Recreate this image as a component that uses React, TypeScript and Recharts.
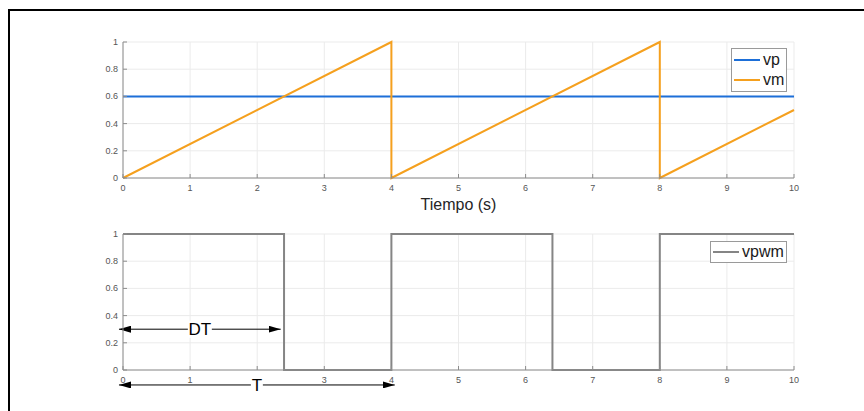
import { LineChart, Line, XAxis, YAxis, CartesianGrid, Legend, ReferenceLine, Label } from "recharts";

const xTicks = [0, 1, 2, 3, 4, 5, 6, 7, 8, 9, 10];
const yTicks = [0, 0.2, 0.4, 0.6, 0.8, 1];

const vpTime = [0, 10];
const vpValues = [0.6, 0.6];
const vmTime = [0, 4, 4, 8, 8, 10];
const vmValues = [0, 1, 0, 1, 0, 0.5];
const pwmTime = [0, 2.4, 4, 6.4, 8, 10];
const pwmValues = [1, 0, 1, 0, 1, 1];

const seriesOrder = ["vp", "vm", "vpwm"];

// arrow annotations (x from, x to, level)
const dtSpan = [-0.06, 2.35];
const dtLevel = 0.3;
const tSpan = [-0.06, 4.05];
const tLevel = -0.11;
// bottom tick label hidden under the "T" annotation
const pwmHiddenLabels = [2];

const toPoints = (xs: number[], ys: number[]) => xs.map((t, i) => ({ t, v: ys[i] }));

const AXIS = "#8c8c8c";
const LABEL = "#555555";
const GRID = "#ebebeb";
const FONT = "'Liberation Sans', Arial, sans-serif";

const BottomTick = (props: any) => {
  const { x, y, payload, hidden } = props;
  const showText = !(hidden || []).includes(payload.value);
  return (
    <g>
      <line x1={x} y1={y} x2={x} y2={y - 4} stroke={AXIS} />
      {showText && (
        <text x={x} y={y + 13} textAnchor="middle" fontSize={9} fill={LABEL} fontFamily={FONT}>
          {payload.value}
        </text>
      )}
    </g>
  );
};

const TopTick = (props: any) => {
  const { x, y } = props;
  return <line x1={x} y1={y} x2={x} y2={y + 4} stroke={AXIS} />;
};

const LeftTick = (props: any) => {
  const { x, y, payload } = props;
  return (
    <g>
      <line x1={x} y1={y} x2={x + 4} y2={y} stroke={AXIS} />
      <text x={x - 5} y={y + 3} textAnchor="end" fontSize={9} fill={LABEL} fontFamily={FONT}>
        {payload.value}
      </text>
    </g>
  );
};

const RightTick = (props: any) => {
  const { x, y } = props;
  return <line x1={x} y1={y} x2={x - 4} y2={y} stroke={AXIS} />;
};

const renderTitle = (props: any) => {
  const vb = props.viewBox;
  return (
    <text x={vb.x + vb.width / 2} y={vb.y + 31.5} textAnchor="middle" fontSize={16} fill="#262626" fontFamily={FONT}>
      Tiempo (s)
    </text>
  );
};

const makeLegend = (w: number, h: number) => (props: any) => {
  const items = [...(props.payload || [])].sort(
    (a: any, b: any) => seriesOrder.indexOf(a.value) - seriesOrder.indexOf(b.value)
  );
  return (
    <div
      style={{
        width: w,
        height: h,
        boxSizing: "border-box",
        border: "1px solid #9a9a9a",
        background: "#fff",
        display: "flex",
        flexDirection: "column",
        justifyContent: "center",
      }}
    >
      {items.map((e: any) => (
        <div key={e.value} style={{ height: 19.7, display: "flex", alignItems: "center" }}>
          <span style={{ display: "inline-block", marginLeft: 2, width: 26, height: 2, background: e.color }} />
          <span style={{ marginLeft: 3, fontSize: 16, lineHeight: 1, color: "#1a1a1a", fontFamily: FONT }}>{e.value}</span>
        </div>
      ))}
    </div>
  );
};

const arrowShape = (text: string, fontSize: number, textWidth: number, id: string) => (props: any) => {
  const { x1, y1, x2, y2 } = props;
  if (x1 == null) return null;
  const cx = (x1 + x2) / 2;
  return (
    <g>
      <defs>
        <marker id={id} markerWidth={12} markerHeight={7} refX={12} refY={3.5} orient="auto-start-reverse" markerUnits="userSpaceOnUse">
          <path d="M0,0 L12,3.5 L0,7 z" fill="#000" />
        </marker>
      </defs>
      <line x1={x1} y1={y1} x2={x2} y2={y2} stroke="#000" strokeWidth={1} markerStart={`url(#${id})`} markerEnd={`url(#${id})`} />
      <rect x={cx - textWidth / 2} y={y1 - fontSize / 2} width={textWidth} height={fontSize} fill="#fff" />
      <text x={cx} y={y1 + fontSize * 0.36} textAnchor="middle" fontSize={fontSize} fill="#000" fontFamily={FONT}>
        {text}
      </text>
    </g>
  );
};

export default function App() {
  return (
    <div style={{ position: "absolute", left: 0, top: 0, width: 864, height: 411, background: "#fff", overflow: "hidden" }}>
      <div
        style={{
          position: "absolute",
          left: 8,
          top: 9,
          width: 870,
          height: 420,
          borderTop: "2px solid #000",
          borderLeft: "2px solid #000",
        }}
      />
      <div style={{ position: "absolute", left: 0, top: 0 }}>
        <LineChart width={864} height={220} margin={{ top: 42, right: 70, left: 83, bottom: 0 }}>
          <CartesianGrid stroke={GRID} />
          <XAxis
            dataKey="t"
            type="number"
            domain={[0, 10]}
            ticks={xTicks}
            interval={0}
            height={42}
            tickSize={0}
            tickMargin={0}
            tick={<BottomTick />}
            axisLine={{ stroke: AXIS }}
          >
            <Label content={renderTitle} />
          </XAxis>
          <XAxis
            xAxisId="top"
            orientation="top"
            dataKey="t"
            type="number"
            domain={[0, 10]}
            ticks={xTicks}
            interval={0}
            height={0}
            tickSize={0}
            tickMargin={0}
            tick={<TopTick />}
            axisLine={{ stroke: AXIS }}
          />
          <YAxis
            type="number"
            domain={[0, 1]}
            ticks={yTicks}
            interval={0}
            width={40}
            tickSize={0}
            tickMargin={0}
            tick={<LeftTick />}
            axisLine={{ stroke: AXIS }}
          />
          <YAxis
            yAxisId="right"
            orientation="right"
            type="number"
            domain={[0, 1]}
            ticks={yTicks}
            interval={0}
            width={0}
            tickSize={0}
            tickMargin={0}
            tick={<RightTick />}
            axisLine={{ stroke: AXIS }}
          />
          <Legend
            layout="vertical"
            align="center"
            verticalAlign="middle"
            itemSorter={null as any}
            content={makeLegend(56, 44)}
            wrapperStyle={{ left: 731, top: 48, width: 56, height: 44 }}
          />
          <Line data={toPoints(vpTime, vpValues)} dataKey="v" name="vp" type="linear" stroke="#1d6fd8" strokeWidth={2} dot={false} isAnimationActive={false} />
          <Line data={toPoints(vmTime, vmValues)} dataKey="v" name="vm" type="linear" stroke="#f5a01e" strokeWidth={2} dot={false} isAnimationActive={false} />
        </LineChart>
      </div>
      <div style={{ position: "absolute", left: 0, top: 220 }}>
        <LineChart width={864} height={191} margin={{ top: 14, right: 70, left: 83, bottom: 11 }}>
          <CartesianGrid stroke={GRID} />
          <XAxis
            dataKey="t"
            type="number"
            domain={[0, 10]}
            ticks={xTicks}
            interval={0}
            height={30}
            tickSize={0}
            tickMargin={0}
            tick={<BottomTick hidden={pwmHiddenLabels} />}
            axisLine={{ stroke: AXIS }}
          />
          <XAxis
            xAxisId="top"
            orientation="top"
            dataKey="t"
            type="number"
            domain={[0, 10]}
            ticks={xTicks}
            interval={0}
            height={0}
            tickSize={0}
            tickMargin={0}
            tick={<TopTick />}
            axisLine={{ stroke: AXIS }}
          />
          <YAxis
            type="number"
            domain={[0, 1]}
            ticks={yTicks}
            interval={0}
            width={40}
            tickSize={0}
            tickMargin={0}
            tick={<LeftTick />}
            axisLine={{ stroke: AXIS }}
          />
          <YAxis
            yAxisId="right"
            orientation="right"
            type="number"
            domain={[0, 1]}
            ticks={yTicks}
            interval={0}
            width={0}
            tickSize={0}
            tickMargin={0}
            tick={<RightTick />}
            axisLine={{ stroke: AXIS }}
          />
          <Legend
            layout="vertical"
            align="center"
            verticalAlign="middle"
            content={makeLegend(77, 22)}
            wrapperStyle={{ left: 710, top: 21, width: 77, height: 22 }}
          />
          <Line data={toPoints(pwmTime, pwmValues)} dataKey="v" name="vpwm" type="stepAfter" stroke="#858585" strokeWidth={2} dot={false} isAnimationActive={false} />
          <ReferenceLine
            segment={[{ x: dtSpan[0], y: dtLevel }, { x: dtSpan[1], y: dtLevel }]}
            ifOverflow="visible"
            shape={arrowShape("DT", 17, 24, "arrowDT")}
          />
          <ReferenceLine
            segment={[{ x: tSpan[0], y: tLevel }, { x: tSpan[1], y: tLevel }]}
            ifOverflow="visible"
            shape={arrowShape("T", 17, 12, "arrowT")}
          />
        </LineChart>
      </div>
    </div>
  );
}
